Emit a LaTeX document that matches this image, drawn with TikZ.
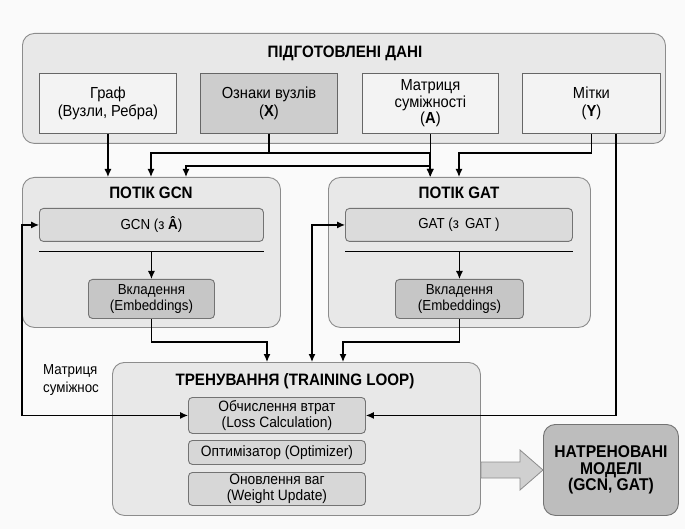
\documentclass[tikz,border=0pt]{standalone}
\usepackage{fontspec}
\setmainfont{Liberation Sans}[FakeStretch=0.92]
\usetikzlibrary{arrows.meta}
\definecolor{bgc}{HTML}{FAFAFA}
\definecolor{contf}{HTML}{E8E8E8}
\definecolor{contd}{HTML}{8C8C8C}
\definecolor{lightf}{HTML}{F3F3F3}
\definecolor{midf}{HTML}{CDCDCD}
\definecolor{modf}{HTML}{DBDBDB}
\definecolor{embf}{HTML}{C6C6C6}
\definecolor{stepf}{HTML}{D7D7D7}
\definecolor{finf}{HTML}{BDBDBD}
\definecolor{bigarr}{HTML}{D0D0D0}
\tikzset{
  cont/.style={draw=contd, fill=contf, line width=0.9pt, rounded corners=12pt, anchor=north west, inner sep=0pt},
  databox/.style={draw=black!60, fill=lightf, line width=0.9pt, anchor=north west, align=center, inner sep=0pt, font=\fontsize{16}{17.5}\selectfont},
  modbox/.style={draw=black!55, fill=modf, line width=0.9pt, rounded corners=4pt, anchor=north west, align=center, inner sep=0pt, font=\fontsize{14.5}{16.7}\selectfont},
  embbox/.style={modbox, fill=embf},
  stepbox/.style={modbox, fill=stepf, font=\fontsize{15}{15.8}\selectfont},
  ttl/.style={font=\fontsize{16.5}{19}\selectfont\bfseries, inner sep=0pt},
  arr/.style={line width=1.2pt, -{Latex[length=8pt,width=7pt]}},
  darr/.style={line width=1.2pt, {Latex[length=8pt,width=7pt]}-{Latex[length=8pt,width=7pt]}},
  sepline/.style={line width=1.2pt},
}
\begin{document}
\begin{tikzpicture}[x=1pt,y=-1pt]
\fill[bgc] (0,0) rectangle (685,529);
\useasboundingbox (0,0) rectangle (685,529);

% containers
\node[cont, minimum width=643pt, minimum height=110pt] (data) at (22,33) {};
\node[ttl] (datat) at (345,53) {ПІДГОТОВЛЕНІ ДАНІ};
\node[cont, minimum width=258pt, minimum height=150pt] (gcnc) at (22,177) {};
\node[ttl] (gcnt) at (151,193) {ПОТІК GCN};
\node[cont, minimum width=262pt, minimum height=150pt] (gatc) at (328,177) {};
\node[ttl] (gatt) at (459,193) {ПОТІК GAT};
\node[cont, minimum width=368pt, minimum height=153pt] (train) at (112,362) {};
\node[ttl] (traint) at (295,381) {ТРЕНУВАННЯ (TRAINING LOOP)};

% data boxes
\node[databox, minimum width=137pt, minimum height=60pt] (graf) at (39,73) {Граф\\(Вузли, Ребра)};
\node[databox, fill=midf, minimum width=137pt, minimum height=60pt] (ozn) at (200,73) {Ознаки вузлів\\(\textbf{X})};
\node[databox, minimum width=136pt, minimum height=60pt, font=\fontsize{16}{16.5}\selectfont] (mat) at (362,73) {Матриця\\суміжності\\(\textbf{A})};
\node[databox, minimum width=138pt, minimum height=60pt] (mit) at (522,73) {Мітки\\(\textbf{Y})};

% GCN stream
\node[modbox, minimum width=224pt, minimum height=33pt] (gcnb) at (39,208) {GCN (з \textbf{Â})};
\node[embbox, minimum width=126pt, minimum height=39pt] (emb1) at (88,279) {Вкладення\\(Embeddings)};
% GAT stream
\node[modbox, minimum width=227pt, minimum height=33pt] (gatb) at (345,208) {GAT (з\, GAT )};
\node[embbox, minimum width=128pt, minimum height=39pt] (emb2) at (395,279) {Вкладення\\(Embeddings)};

\draw[sepline] ([yshift=-10pt]gcnb.south west) -- ([yshift=-10pt]gcnb.south east);
\draw[arr] ([yshift=-10pt]gcnb.south -| emb1.north) -- (emb1.north);
\draw[sepline] ([yshift=-10pt]gatb.south west) -- ([yshift=-10pt]gatb.south east);
\draw[arr] ([yshift=-10pt]gatb.south -| emb2.north) -- (emb2.north);

% training steps
\node[stepbox, minimum width=177pt, minimum height=36pt] (loss) at (188,397) {Обчислення втрат\\(Loss Calculation)};
\node[stepbox, minimum width=177pt, minimum height=24pt] (opt) at (188,440) {Оптимізатор (Optimizer)};
\node[stepbox, minimum width=177pt, minimum height=33pt] (wu) at (188,472) {Оновлення ваг\\(Weight Update)};

% final model
\node[draw=black!55, fill=finf, line width=0.9pt, rounded corners=12pt, anchor=north west, minimum width=135pt, minimum height=91pt, align=center, inner sep=0pt, font=\fontsize{17}{16.5}\selectfont\bfseries] (model) at (543,424) {НАТРЕНОВАНІ\\МОДЕЛІ\\(GCN, GAT)};

% big arrow
\draw[draw=black!45, fill=bigarr, line width=0.8pt] (train.east |- 0,462) -- (520,462) -- (520,450) -- (model.west |- 0,470) -- (520,490) -- (520,478) -- (train.east |- 0,478) -- cycle;

% label
\node[font=\fontsize{14.5}{18}\selectfont, align=left, inner sep=0pt, anchor=north west] (lbl) at (43,364) {Матриця\\суміжнос};

% connectors
\coordinate (xL) at (151,153);
\coordinate (xR) at (430,153);
\coordinate (aL) at (186,166);
\coordinate (yL) at (459,153);
\coordinate (yR) at (616,153);
\coordinate (lx) at (22,300);
\coordinate (gx) at (312,300);
\coordinate (e1) at (267,342);
\coordinate (e2) at (343,342);

\draw[arr] (graf.south) -- (graf.south |- gcnc.north);
\draw[arr] (ozn.south) |- (xL) -- (xL |- gcnc.north);
\draw[arr] (ozn.south) |- (xR) -- (xR |- gatc.north);
\draw[arr] (mat.south) -- (mat.south |- gatc.north);
\draw[arr] (mat.south |- aL) -- (aL) -- (aL |- gcnc.north);
\draw[arr] (mit.south) |- (yL) -- (yL |- gatc.north);
\draw[arr] (mit.south -| yR) |- (loss.east);
\draw[darr] (gcnb.west) -- (gcnb.west -| lx) |- (loss.west);
\draw[darr] (gatb.west) -- (gatb.west -| gx) -- (gx |- train.north);
\draw[arr] (emb1.south) |- (e1) -- (e1 |- train.north);
\draw[arr] (emb2.south) |- (e2) -- (e2 |- train.north);
\end{tikzpicture}
\end{document}
